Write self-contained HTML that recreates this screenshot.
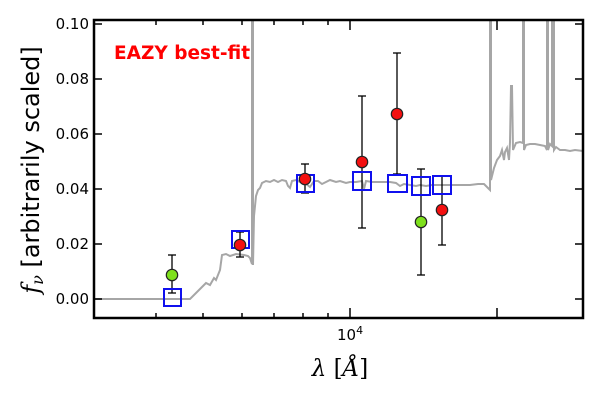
<!DOCTYPE html>
<html><head><meta charset="utf-8"><style>body{margin:0;background:#fff}svg{display:block}</style></head><body>
<svg width="600" height="400" viewBox="0 0 600 400" xmlns="http://www.w3.org/2000/svg" font-family="'DejaVu Sans','Liberation Sans',sans-serif">
<rect width="600" height="400" fill="#fff"/>
<polyline fill="none" stroke="#a6a6a6" stroke-width="2" points="95,299 190,299 196,293 203,286 206,283 210,285 214,278 216,280 220,270 222,255 226,254 230,256 236,254 244,255 248,256 250,258 252,264 252,22 253,22 253,265 254,216 256,196 258,190 260,188 262,183 266,181 270,182 274,180 278,182 282,180 286,181 288,186 290,188 292,181 296,180 300,182 305,183 310,187 314,181 318,181 322,184 326,182 330,180 336,182 340,181 346,183 350,182 356,182 362,181 364,189 366,181 372,182 380,182 390,182 396,183 400,186 404,184 410,185 416,186 420,185 426,186 432,185 440,185 450,185 460,185 470,185 478,184 484,184 488,188 490,190 490,22 491,22 491,180 494,168 497,160 500,156 502,150 504,160 505,152 507,148 509,160 510,142 511,86 512,86 513,150 516,143 520,142 523,143 523,22 524,22 524,150 526,145 530,144 535,144 540,145 545,146 547,150 547,22 548,22 548,150 550,144 552,146 552,22 554,22 554,150 556,147 560,150 565,150 570,151 575,150 583,151"/>
<g stroke="#000" stroke-width="1.3">
<line x1="172" y1="255" x2="172" y2="293"/><line x1="168" y1="255" x2="176" y2="255"/><line x1="168" y1="293" x2="176" y2="293"/>
<line x1="240" y1="232" x2="240" y2="257"/><line x1="236" y1="232" x2="244" y2="232"/><line x1="236" y1="257" x2="244" y2="257"/>
<line x1="305" y1="164" x2="305" y2="193"/><line x1="301" y1="164" x2="309" y2="164"/><line x1="301" y1="193" x2="309" y2="193"/>
<line x1="362" y1="96" x2="362" y2="228"/><line x1="358" y1="96" x2="366" y2="96"/><line x1="358" y1="228" x2="366" y2="228"/>
<line x1="397" y1="53" x2="397" y2="174"/><line x1="393" y1="53" x2="401" y2="53"/><line x1="393" y1="174" x2="401" y2="174"/>
<line x1="421" y1="169" x2="421" y2="275"/><line x1="417" y1="169" x2="425" y2="169"/><line x1="417" y1="275" x2="425" y2="275"/>
<line x1="442" y1="176" x2="442" y2="245"/><line x1="438" y1="176" x2="446" y2="176"/><line x1="438" y1="245" x2="446" y2="245"/>
</g>
<g fill="none" stroke="#1010ee" stroke-width="2">
<rect x="164" y="289" width="17" height="17"/>
<rect x="232" y="231" width="17" height="17"/>
<rect x="297" y="175" width="17" height="17"/>
<rect x="353" y="172" width="18" height="18"/>
<rect x="388" y="175" width="19" height="17"/>
<rect x="412" y="177" width="18" height="18"/>
<rect x="433" y="176" width="18" height="18"/>
</g>
<g stroke="#222" stroke-width="1.2">
<circle cx="172" cy="275" r="5.7" fill="#7ee01c"/>
<circle cx="240" cy="245" r="5.7" fill="#f41010"/>
<circle cx="305" cy="179" r="5.7" fill="#f41010"/>
<circle cx="362" cy="162" r="5.7" fill="#f41010"/>
<circle cx="397" cy="114" r="5.7" fill="#f41010"/>
<circle cx="421" cy="222" r="5.7" fill="#7ee01c"/>
<circle cx="442" cy="210" r="5.7" fill="#f41010"/>
</g>
<text x="114" y="59" font-size="18.5" font-weight="bold" fill="#ff0000">EAZY best-fit</text>
<rect x="94" y="20" width="489" height="298" fill="none" stroke="#000" stroke-width="2.5"/>
<g stroke="#000" stroke-width="1.5">
<line x1="94" y1="24" x2="102" y2="24"/><line x1="583" y1="24" x2="575" y2="24"/>
<line x1="94" y1="79" x2="102" y2="79"/><line x1="583" y1="79" x2="575" y2="79"/>
<line x1="94" y1="134" x2="102" y2="134"/><line x1="583" y1="134" x2="575" y2="134"/>
<line x1="94" y1="189" x2="102" y2="189"/><line x1="583" y1="189" x2="575" y2="189"/>
<line x1="94" y1="244" x2="102" y2="244"/><line x1="583" y1="244" x2="575" y2="244"/>
<line x1="94" y1="299" x2="102" y2="299"/><line x1="583" y1="299" x2="575" y2="299"/>
<line x1="350" y1="318" x2="350" y2="308"/><line x1="350" y1="20" x2="350" y2="30"/>
<line x1="497" y1="318" x2="497" y2="308"/><line x1="497" y1="20" x2="497" y2="30"/>
<line x1="156" y1="318" x2="156" y2="313"/><line x1="156" y1="20" x2="156" y2="25"/>
<line x1="203" y1="318" x2="203" y2="313"/><line x1="203" y1="20" x2="203" y2="25"/>
<line x1="242" y1="318" x2="242" y2="313"/><line x1="242" y1="20" x2="242" y2="25"/>
<line x1="274" y1="318" x2="274" y2="313"/><line x1="274" y1="20" x2="274" y2="25"/>
<line x1="303" y1="318" x2="303" y2="313"/><line x1="303" y1="20" x2="303" y2="25"/>
<line x1="328" y1="318" x2="328" y2="313"/><line x1="328" y1="20" x2="328" y2="25"/>
</g>
<g font-size="15" text-anchor="end" fill="#000">
<text x="89" y="29">0.10</text><text x="89" y="84">0.08</text><text x="89" y="139">0.06</text>
<text x="89" y="194">0.04</text><text x="89" y="249">0.02</text><text x="89" y="304">0.00</text>
</g>
<text x="337" y="340" font-size="15">10<tspan font-size="11" dy="-6">4</tspan></text>
<text x="340" y="376" font-size="23" text-anchor="middle" font-family="'DejaVu Serif','Liberation Serif',serif"><tspan font-style="italic">λ</tspan> [<tspan font-style="italic">Å</tspan>]</text>
<text transform="translate(39,170) rotate(-90)" font-size="24" text-anchor="middle"><tspan font-family="'DejaVu Serif',serif" font-style="italic">f<tspan font-size="16" dy="4">ν</tspan></tspan><tspan dy="-4"> [arbitrarily scaled]</tspan></text>
</svg>
</body></html>
